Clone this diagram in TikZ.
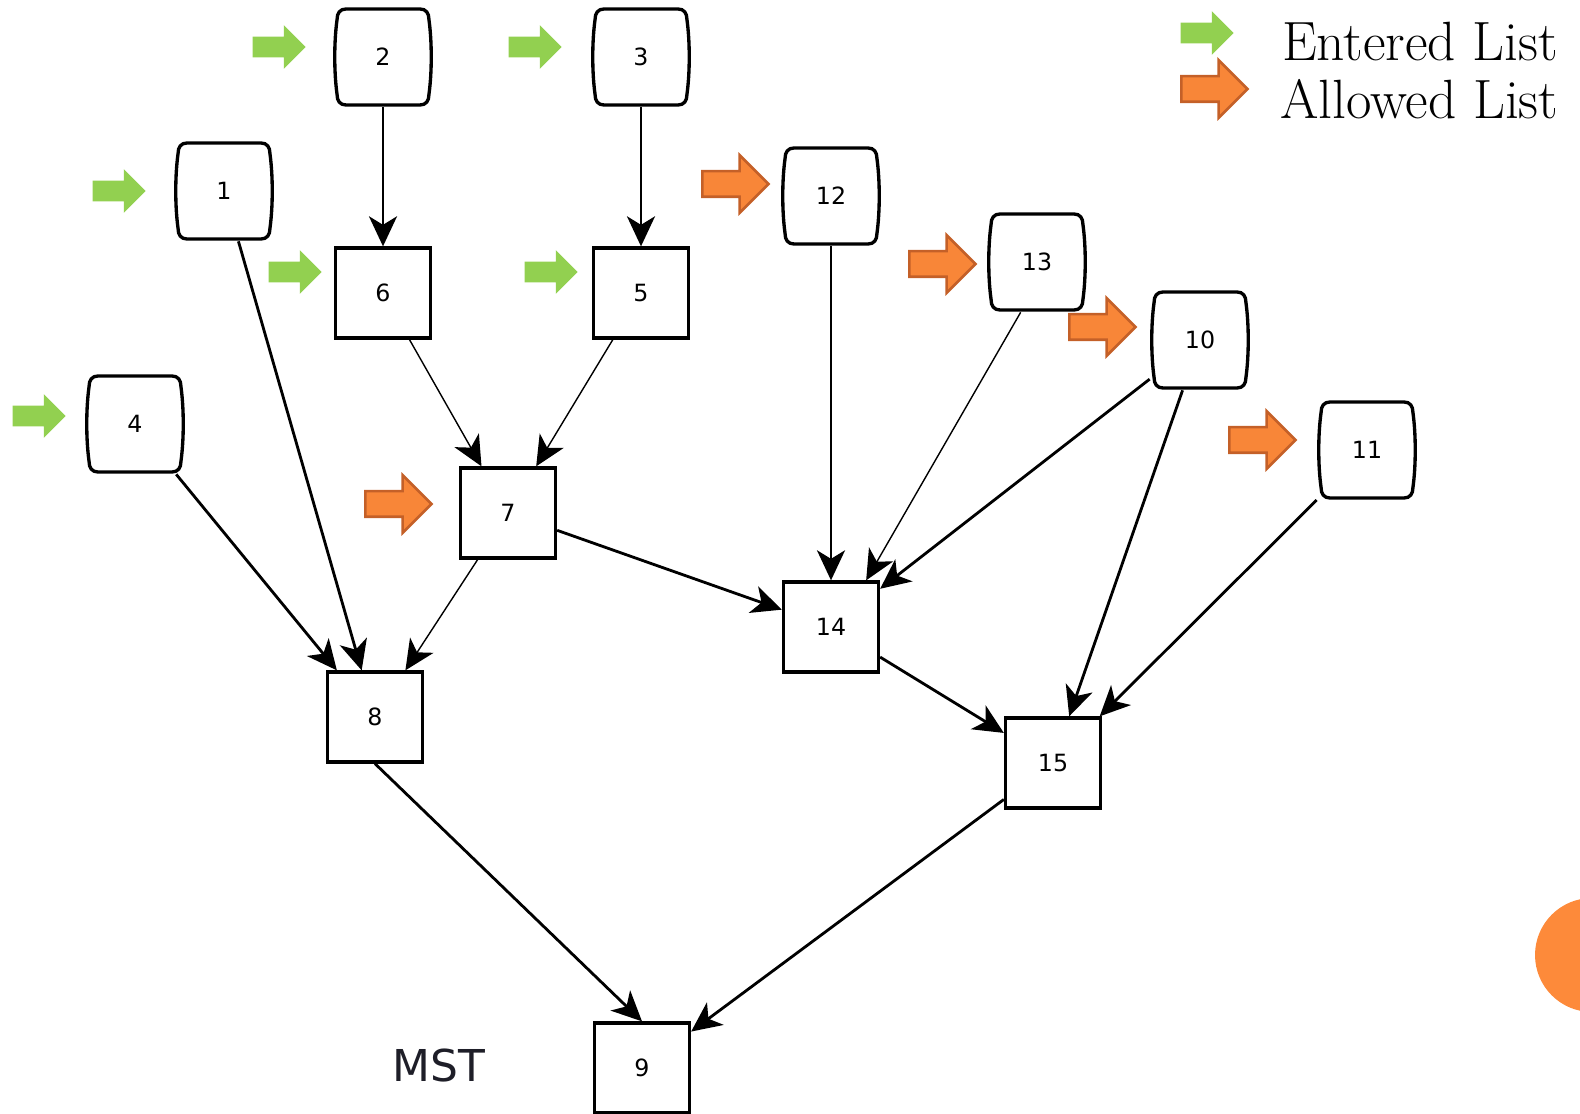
\documentclass[tikz,border=0pt]{standalone}
\usepackage{fontspec}
\newfontfamily\dejavu{DejaVu Sans}
\usetikzlibrary{arrows.meta,shapes.arrows}

\definecolor{entgreen}{RGB}{146,208,80}
\definecolor{allowfill}{RGB}{248,134,56}
\definecolor{allowline}{RGB}{196,96,40}
\definecolor{dotorange}{RGB}{253,138,58}

\begin{document}
\begin{tikzpicture}[
        x=0.02cm, y=-0.02cm,
        lbl/.style={font=\dejavu\fontsize{13.5}{15}\selectfont},
        box/.style={lbl, draw, line width=1.9pt, minimum width=1.9cm, minimum height=1.8cm, inner sep=0pt},
        barrel/.style={lbl, minimum width=2cm, minimum height=2cm, inner sep=0pt},
        barrelline/.style={line width=1.9pt},
        conn/.style={-{Stealth[length=0.6cm, width=0.56cm, inset=0.17cm]}, line width=1.6pt},
        connthin/.style={conn, line width=0.8pt},
        entered/.style={single arrow, fill=entgreen, minimum height=1.06cm, inner sep=0.2cm, single arrow head extend=0.23cm},
        allowed/.style={single arrow, fill=allowfill, draw=allowline, line width=1.5pt, minimum height=1.32cm, inner sep=0.23cm, single arrow head extend=0.32cm}
    ]

    \clip (0,0) rectangle (1580,1114);

    % list nodes
    \node[barrel] (v2) at (383,57) {2};
    \node[barrel] (v3) at (641,57) {3};
    \node[barrel] (v1) at (224,191) {1};
    \node[barrel] (v12) at (831,196) {12};
    \node[barrel] (v13) at (1037,262) {13};
    \node[barrel] (v10) at (1200,340) {10};
    \node[barrel] (v4) at (135,424) {4};
    \node[barrel] (v11) at (1367,450) {11};

    % flat top and bottom, bowed sides
    \foreach \n in {v1,v2,v3,v4,v10,v11,v12,v13}
        \draw[barrelline, shift={(\n.center)}]
            (-37,-48) -- (37,-48) .. controls (43,-48) and (46,-44) .. (46,-37)
            .. controls (49,-15) and (49,15) .. (46,37)
            .. controls (46,44) and (43,48) .. (37,48) -- (-37,48)
            .. controls (-43,48) and (-46,44) .. (-46,37)
            .. controls (-49,15) and (-49,-15) .. (-46,-37)
            .. controls (-46,-44) and (-43,-48) .. cycle;

    % tree nodes
    \node[box] (v6) at (383,293) {6};
    \node[box] (v5) at (641,293) {5};
    \node[box] (v7) at (508,513) {7};
    \node[box] (v14) at (831,627) {14};
    \node[box] (v8) at (375,717) {8};
    \node[box] (v15) at (1053,763) {15};
    \node[box] (v9) at (642,1068) {9};

    \draw[conn] (v2) -- (v6);
    \draw[conn] (v3) -- (v5);
    \draw[conn] (v1) -- (v8);
    \draw[conn] (v4) -- (v8);
    \draw[connthin] (v6) -- (v7);
    \draw[connthin] (v5) -- (v7);
    \draw[connthin] (v7) -- (v8);
    \draw[conn] (v7) -- (v14);
    \draw[conn] (v12) -- (v14);
    \draw[connthin] (v13.-108) -- (v14.53);
    \draw[conn] (v10) -- (v14);
    \draw[conn] (v10) -- (v15);
    \draw[conn] (v11) -- (v15);
    \draw[conn] (v14) -- (v15);
    \draw[conn] (v8.south) -- (v9.north);
    \draw[conn] (v15) -- (v9);

    % markers
    \node[entered] (e2) at (274,47) {};
    \node[entered] (e3) at (530,47) {};
    \node[entered] (e1) at (114,191) {};
    \node[entered] (e6) at (290,272) {};
    \node[entered] (e5) at (546,272) {};
    \node[entered] (e4) at (34,416) {};
    \node[allowed] (a7) at (392,504) {};
    \node[allowed] (a12) at (729,184) {};
    \node[allowed] (a13) at (936,264) {};
    \node[allowed] (a10) at (1096,327) {};
    \node[allowed] (a11) at (1256,440) {};

    % legend
    \node[entered] (legent) at (1202,33) {};
    \node[allowed] (legall) at (1208,89) {};
    \node[anchor=west, font=\fontsize{31.5}{36}\selectfont] (enttxt) at (1276,42) {Entered List};
    \node[anchor=west, font=\fontsize{31.5}{36}\selectfont] (alltxt) at (1274,99) {Allowed List};

    \node[font=\dejavu\fontsize{25}{30}\selectfont, text={rgb,255:red,30;green,30;blue,40}] (mst) at (439,1066) {MST};

    \fill[dotorange] (1592,955) circle[radius=1.14cm];
\end{tikzpicture}
\end{document}
